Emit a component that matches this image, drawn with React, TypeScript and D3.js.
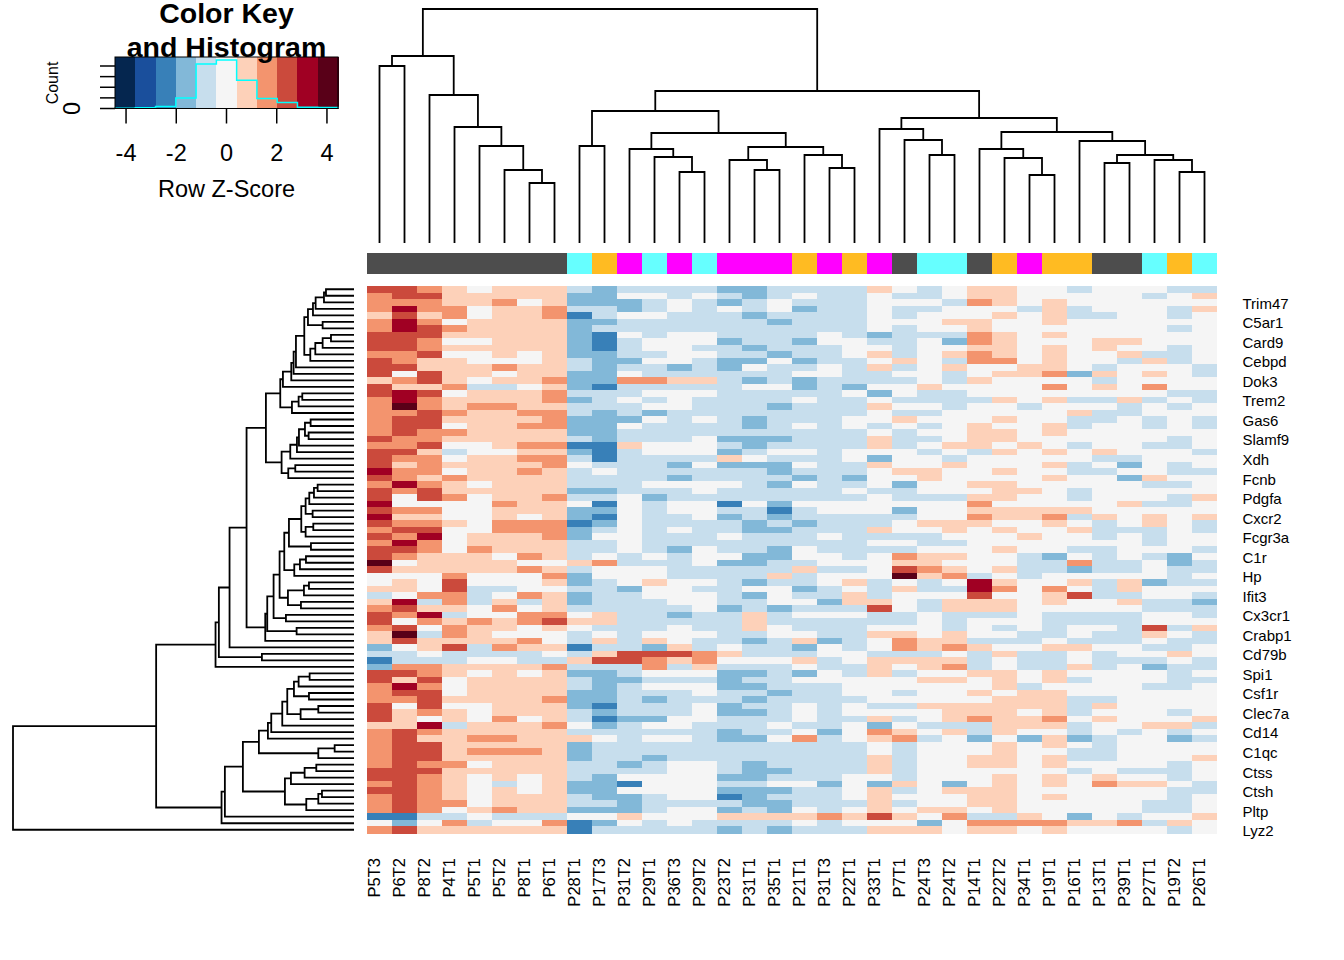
import React from "react";
import * as d3 from "d3";

const colLabels = ["P5T3","P6T2","P8T2","P4T1","P5T1","P5T2","P8T1","P6T1","P28T1","P17T3","P31T2","P29T1","P36T3","P29T2","P23T2","P31T1","P35T1","P21T1","P31T3","P22T1","P33T1","P7T1","P24T3","P24T2","P14T1","P22T2","P34T1","P19T1","P16T1","P13T1","P39T1","P27T1","P19T2","P26T1"];
const colGroups = "ggggggggcomcmcmmmomomgccgomooggcoc";
const rowLabels = ["Trim47","C5ar1","Card9","Cebpd","Dok3","Trem2","Gas6","Slamf9","Xdh","Fcnb","Pdgfa","Cxcr2","Fcgr3a","C1r","Hp","Ifit3","Cx3cr1","Crabp1","Cd79b","Spi1","Csf1r","Clec7a","Cd14","C1qc","Ctss","Ctsh","Pltp","Lyz2"];
const groupColors: Record<string, string> = { g: "#4d4d4d", c: "#66ffff", o: "#ffbb22", m: "#ff00ff" };
const levelColors = ["#05264f","#1a4f9c","#3880b8","#82b8d8","#c7deed","#f5f5f5","#fdd1b9","#f3946e","#cb4a3c","#a00023","#590018"];

// each row: one colour-bin digit per column (A = bin 10)
const cells = [
"887656664344 44334444654 56655455544",
"788666663355 45434544544 56655555456",
"777667563334 54345444555 47656555555",
"797756674434 54545344544 55546455546",
"686756672455 44434444545 55656445545",
"797566663344 44443444555 66556555555",
"798766663444 44444444545 56555555545",
"888666663254 55444454344 47656555555",
"887556663245 55344355445 37655566555",
"887666663245 54434445545 56656565545",
"778556563344 55443445645 67656556445",
"876655564335 54335344565 47756554645",
"886667664344 34354454645 65566545554",
"858665663354 44444554455 45667365654",
"678656673377 66434344445 46555545555",
"866744563244 44455343556 55557565755",
"898566674445 55444445354 45555555544",
"797666673454 54444544544 44656446454",
"7A7677664445 54443444655 45545554545",
"778766774343 44444444544 55555644555",
"788666673335 45434445565 55655445454",
"788566773354 44434545454 56556455454",
"787766663344 44444444545 56656555555",
"877666664344 45333444644 56655555545",
"778556772265 55434444645 66565455445",
"886455663245 55345545554 54656565554",
"877566774244 44654445355 45555544555",
"867666675444 35333544655 65556453545",
"977566764544 44443444566 55655445544",
"876766664444 34444343556 55556553655",
"797656664445 55543544535 56655555445",
"878666663344 45444445445 55665455555",
"858756674453 44444444544 46655455546",
"955557665254 55253555555 57555556445",
"877556663354 55442455535 56666655555",
"966556563254 45343444445 57667465656",
"877657772354 44434344456 66556545654",
"788557773454 54433444655 65655644454",
"879566673554 44544454444 55565545455",
"797566664454 44444444554 45555555455",
"887576664454 35443544445 55655445554",
"876665764545 45533554576 65543545435",
"A56666556744 45334455566 55544744534",
"866666764555 44444644587 65644344544",
"555755573555 444464555A6 74545555545",
"565855563456 55434456454 59655646344",
"665844554435 54455345464 49757546555",
"457745763445 55435446455 58556844554",
"694746463444 55445536654 66656556443",
"786657564444 45343444854 66655555444",
"879455775644 34464555445 44454444554",
"857676786644 44464444445 45554444555",
"785766565444 54465444555 45454554846",
"6A4765554545 55445544665 65544544654",
"686666754646 54434634576 64445444544",
"356847662443 64544354576 76556655445",
"445444454688 87644455444 54644545565",
"244455446887 67555645666 64544544454",
"377666674447 46444544656 74544645344",
"887656563345 55334354645 56656555545",
"868566664334 44344555556 65656455544",
"797566664345 55334445555 55645555445",
"788566663344 45443445545 56566555555",
"778666673343 44434444555 55666445555",
"858556663244 45344545446 66666465555",
"867656664344 45334545555 66656455545",
"865657564233 55444544645 67667565556",
"669466675345 54445445354 44666455664",
"787666664444 44344535765 64655454545",
"786677666545 54335745674 53536345534",
"788666663444 44444444545 55656545555",
"788677763444 44444444545 55655445555",
"788666663443 44444444645 56656445556",
"787756664434 55434444645 56656555545",
"888666664444 55433444645 55555454445",
"887656564355 55334445545 55656565545",
"787654563325 55445535365 35656576654",
"887656563355 55333445645 66655555544",
"787656664334 55234445655 56656555545",
"787756664434 44433444645 56655555445",
"787567663334 55343545656 65655555445",
"224454445565 55666676865 74465354556",
"535745572354 54444545553 57777667465",
"786666662444 44343444666 56656555545",
];

type T = number | [number, T, T];
const N = (h: number, a: T, b: T): T => [h, a, b];

// column dendrogram, heights
const colTree: T = N(234,
  N(187, N(177, 0, 1), N(148, 2, N(116, 3, N(97, 4, N(73, 5, N(60, 6, 7)))))),
  N(152,
    N(132, N(97, 8, 9),
      N(110,
        N(94, 10, N(86, 11, N(71, 12, 13))),
        N(96, N(83, 14, N(73, 15, 16)), N(88, 17, N(75, 18, 19))))),
    N(125,
      N(114, 20, N(103, 21, N(88, 22, 23))),
      N(111,
        N(94, 24, N(85, 25, N(68, 26, 27))),
        N(102, 28, N(88, N(80, 29, 30), N(83, 31, N(71, 32, 33))))))));

// row dendrogram, heights
const rowA: T = N(149,
  N(138, N(123, N(115, N(90, N(84, 0, 1), 2), 3), 4), N(94, 5, 6)),
  N(131, N(116, N(94, N(69, 7, 8), 9), 10), 11));
const rowB: T = N(213, N(188, N(181, N(174, rowA, 12), 13), 14), 15);
const rowC: T = N(186, N(166, N(155, 16, 17), 18), 19);
const rowD: T = N(191, N(171, N(165, N(147, N(130, 20, 21), N(136, 22, 23)), 24), 25), 26);
const rowE: T = N(197, N(176, 27, 28), 29);
const rowTop: T = N(264, N(221, rowB, rowC), N(217, rowD, rowE));
const rowF: T = N(158,
  N(145, N(134, N(120, N(109, 30, 31), 32), 33), N(124, 34, 35)),
  N(145, N(122, 36, 37), 38));
const rowG: T = N(209, N(195, rowF, N(129, 39, 40)), N(179, N(162, N(144, 41, 42), 43), 44));
const rowH: T = N(223, rowG, N(198, N(150, N(135, 45, 46), 47), N(159, 48, 49)));
const rowI: T = N(266, N(260, N(241, rowH, N(204, 50, 51)), N(172, 52, 53)), 54);
const rowJ: T = N(415, N(405, N(373, N(322, rowTop, rowI), 55), N(276, 56, 57)), 58);
const rowK: T = N(258, N(248, N(215, N(200,
  N(180, N(166, N(133, 59, 60), 61), N(135, 62, 63)),
  N(160, N(107, 64, 65), 66)), 67), 68), 69);
const rowL: T = N(285, rowK, N(107, N(58, 70, 71), 72));
const rowM: T = N(207,
  N(189, N(148, N(113, 73, 74), 75), 76),
  N(143, N(107, N(96, 77, 78), 79), 80));
const rowTree: T = N(1022, N(593, rowJ, N(397, N(387, N(333, rowL, rowM), 81), 82)), 83);

const keyTicks = [-4, -2, 0, 2, 4];
const countTicks = [0, 200, 400, 600, 800];
const histCounts = [6, 12, 38, 200, 838, 912, 531, 188, 112, 25, 19];

const FONT = "'Liberation Sans', Arial, sans-serif";

function dendro(tree: T, pos: (leaf: number) => number, hPos: (h: number) => number, vertical: boolean) {
  const root = d3.hierarchy<T>(tree, (d) => (Array.isArray(d) ? [d[1], d[2]] : null));
  const at = new Map<any, number>();
  const p = d3.path();
  const height = (n: any) => (Array.isArray(n.data) ? n.data[0] : 0);
  root.eachAfter((n: any) => {
    if (!n.children) { at.set(n, pos(n.data as number)); return; }
    const [a, b] = n.children;
    const pa = at.get(a)!, pb = at.get(b)!;
    at.set(n, (pa + pb) / 2);
    const h = hPos(height(n));
    if (vertical) {
      p.moveTo(pa, hPos(height(a))); p.lineTo(pa, h); p.lineTo(pb, h); p.lineTo(pb, hPos(height(b)));
    } else {
      p.moveTo(hPos(height(a)), pa); p.lineTo(h, pa); p.lineTo(h, pb); p.lineTo(hPos(height(b)), pb);
    }
  });
  return p.toString();
}

export default function App() {
  const rows = cells.map((s) => s.replace(/ /g, ""));
  const x = d3.scaleBand<number>().domain(d3.range(colLabels.length)).range([367, 1217]);
  const y = d3.scaleBand<number>().domain(d3.range(rows.length)).range([286, 833]);
  const colH = d3.scaleLinear().domain([0, 234]).range([243, 9]);
  const rowH_ = d3.scaleLinear().domain([0, 1022]).range([354, 13]);
  const keyX = d3.scaleLinear().domain([-4.44, 4.44]).range([115, 338]);
  const keyY = d3.scaleLinear().domain([0, 800]).range([108.5, 66]);
  const keyBand = d3.scaleBand<number>().domain(d3.range(11)).range([115, 338]);

  const hist = d3.path();
  hist.moveTo(keyBand(0)!, keyY(0));
  histCounts.forEach((c, i) => {
    hist.lineTo(keyBand(i)!, keyY(c));
    hist.lineTo(keyBand(i)! + keyBand.bandwidth(), keyY(c));
  });
  hist.lineTo(338, keyY(0));

  return (
    <svg width={1344} height={960} style={{ position: "absolute", left: 0, top: 0, background: "#fff" }} fontFamily={FONT}>
      {/* colour key */}
      <g shapeRendering="crispEdges">
        {levelColors.map((c, i) => (
          <rect key={i} x={keyBand(i)} y={57} width={keyBand.bandwidth() + 0.5} height={51.5} fill={c} />
        ))}
      </g>
      <path d={hist.toString()} fill="none" stroke="#00ffff" strokeWidth={1.5} />
      <rect x={115} y={57} width={223} height={51.5} fill="none" stroke="#000" strokeWidth={1} />
      {keyTicks.map((t) => (
        <g key={t}>
          <line x1={keyX(t)} x2={keyX(t)} y1={108.5} y2={123.5} stroke="#000" strokeWidth={1.5} />
          <text x={keyX(t)} y={161} fontSize={23.5} textAnchor="middle">{t}</text>
        </g>
      ))}
      {countTicks.map((t) => (
        <line key={t} x1={100} x2={115} y1={keyY(t)} y2={keyY(t)} stroke="#000" strokeWidth={1.5} />
      ))}
      <text transform="translate(80,108.5) rotate(-90)" fontSize={23.5} textAnchor="middle">0</text>
      <text transform="translate(57.5,83) rotate(-90)" fontSize={16} textAnchor="middle">Count</text>
      <text x={226.5} y={197} fontSize={23.5} textAnchor="middle">Row Z-Score</text>
      <text x={226.5} y={22.5} fontSize={28.5} fontWeight="bold" textAnchor="middle">Color Key</text>
      <text x={226.5} y={57} fontSize={28.5} fontWeight="bold" textAnchor="middle">and Histogram</text>

      {/* dendrograms */}
      <path d={dendro(colTree, (i) => x(i)! + x.bandwidth() / 2, colH, true)} fill="none" stroke="#000" strokeWidth={1.8} />
      <path d={dendro(rowTree, (i) => y(i)! + y.bandwidth() / 2, rowH_, false)} fill="none" stroke="#000" strokeWidth={1.8} />

      {/* side colours */}
      <g shapeRendering="crispEdges">
        {colGroups.split("").map((g, i) => (
          <rect key={i} x={x(i)} y={253} width={x.bandwidth()} height={21} fill={groupColors[g]} />
        ))}
      </g>

      {/* heat map */}
      <g shapeRendering="crispEdges">
        {rows.map((r, ri) =>
          r.split("").map((c, ci) => (
            <rect key={ri + "-" + ci} x={x(ci)} y={y(ri)} width={x.bandwidth()} height={y.bandwidth() + 0.5} fill={levelColors[c === "A" ? 10 : +c]} />
          ))
        )}
      </g>

      {rowLabels.map((l, k) => {
        const r = 2 + 3 * k;
        return (
          <text key={l} x={1242.5} y={y(r)! + y.bandwidth() / 2 + 6.4} fontSize={15}>{l}</text>
        );
      })}
      {colLabels.map((l, i) => (
        <text key={l} transform={`translate(${x(i)! + x.bandwidth() / 2},858) rotate(-90)`} fontSize={16.5} textAnchor="end">{l}</text>
      ))}
    </svg>
  );
}
